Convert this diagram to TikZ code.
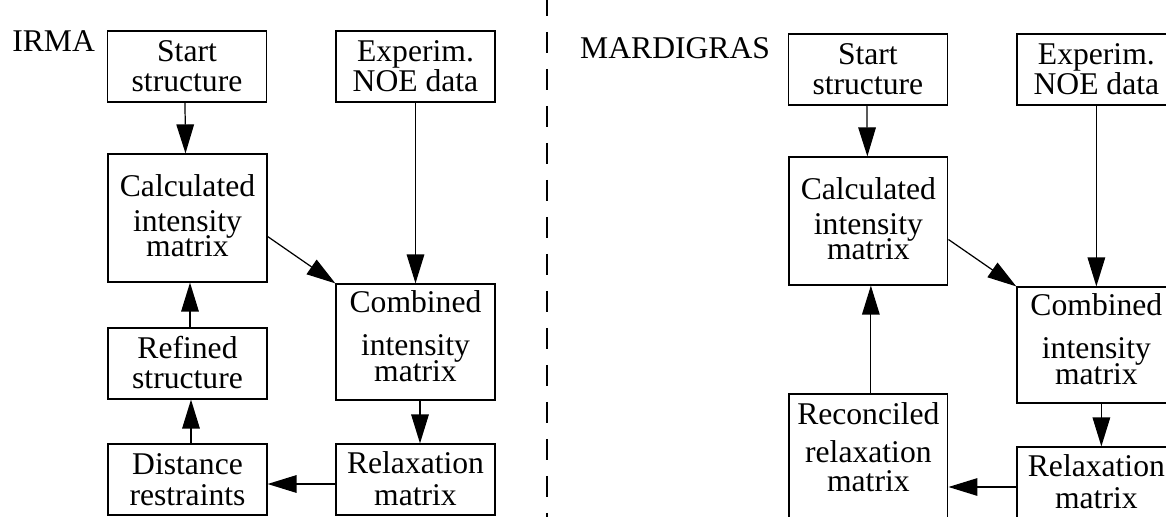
\documentclass[tikz,border=0pt]{standalone}
\usepackage{fontspec}
\setmainfont{Liberation Serif}
\usetikzlibrary{arrows.meta}

\tikzset{
  box/.style={draw, line width=0.7pt, inner sep=0pt, minimum width=3.18cm,
    align=center, text height=1.22cm, text depth=0.2cm},
  tallbox/.style={text height=2.06cm, text depth=0.5cm},
  flow/.style={line width=0.7pt, -{Triangle[length=16.5pt,width=10pt]}},
}

\begin{document}
\begin{tikzpicture}[x=0.02cm, y=-0.02cm, font=\fontsize{18pt}{17.1pt}\selectfont]
  \clip (0,0) rectangle (1166,517);
  % IRMA
  \node[anchor=base west, inner sep=0pt] (irma) at (12,52) {IRMA};
  \node[box] (startI) at (187,66.5) {Start\\structure};
  \node[box] (experI) at (415.5,66.5) {Experim.\\NOE data};
  \node[box, tallbox] (calcI) at (187.5,218) {Calculated\\[3pt]intensity\\[-2.5pt]matrix};
  \node[box, text height=1.96cm, text depth=0.36cm] (combI) at (415.5,342) {Combined\\[7.5pt]intensity\\[-2.3pt]matrix};
  \node[box] (refinedI) at (187.5,363.5) {Refined\\structure};
  \node[box] (distI) at (187.5,479.5) {Distance\\[0.5pt]restraints};
  \node[box] (relaxI) at (415.5,479.5) {Relaxation\\[1pt]matrix};
  \coordinate (relI) at ([yshift=-0.09cm]relaxI.west);
  \draw[flow] ([xshift=-0.04cm]startI.south) -- ([xshift=-0.04cm]calcI.north);
  \draw[flow] (experI) -- (combI);
  \draw[flow] (calcI.-13) -- (combI.north west);
  \draw[flow] ([xshift=0.09cm]combI.south) -- ([xshift=0.09cm]relaxI.north);
  \draw[flow] (relI) -- (relI -| distI.east);
  \draw[flow] ([xshift=0.07cm]distI.north) -- ([xshift=0.07cm]refinedI.south);
  \draw[flow] ([xshift=0.05cm]refinedI.north) -- ([xshift=0.05cm]calcI.south);

  \draw[line width=0.6pt, dash pattern=on 0.42cm off 0.32cm, dash phase=0.1cm]
    (547,0) -- (547,517);

  % MARDIGRAS
  \begin{scope}[xshift=13.62cm, yshift=-0.06cm]
    \node[anchor=base west, inner sep=0pt] (mardigras) at (-101,56) {MARDIGRAS};
    \node[box] (startM) at (187,66.5) {Start\\structure};
    \node[box] (experM) at (415.5,66.5) {Experim.\\NOE data};
    \node[box, tallbox] (calcM) at (187.5,218) {Calculated\\[3pt]intensity\\[-2.5pt]matrix};
    \node[box, text height=1.96cm, text depth=0.36cm] (combM) at (415.5,342) {Combined\\[7.5pt]intensity\\[-2.3pt]matrix};
    \node[box, text height=1.96cm, text depth=0.96cm] (reconM) at (187.5,464) {Reconciled\\[4.5pt]relaxation\\[-0.5pt]matrix};
    \node[box] (relaxM) at (415.5,479.5) {Relaxation\\[1pt]matrix};
    \coordinate (relM) at ([yshift=-0.09cm]relaxM.west);
    \draw[flow] ([xshift=-0.02cm]startM.south) -- ([xshift=-0.02cm]calcM.north);
    \draw[flow] (experM) -- (combM);
    \draw[flow] (calcM.-13) -- (combM.north west);
    \draw[flow] ([xshift=0.1cm]combM.south) -- ([xshift=0.1cm]relaxM.north);
    \draw[flow] (relM) -- (relM -| reconM.east);
    \draw[flow] ([xshift=0.05cm]reconM.north) -- ([xshift=0.05cm]calcM.south);
  \end{scope}
\end{tikzpicture}
\end{document}
